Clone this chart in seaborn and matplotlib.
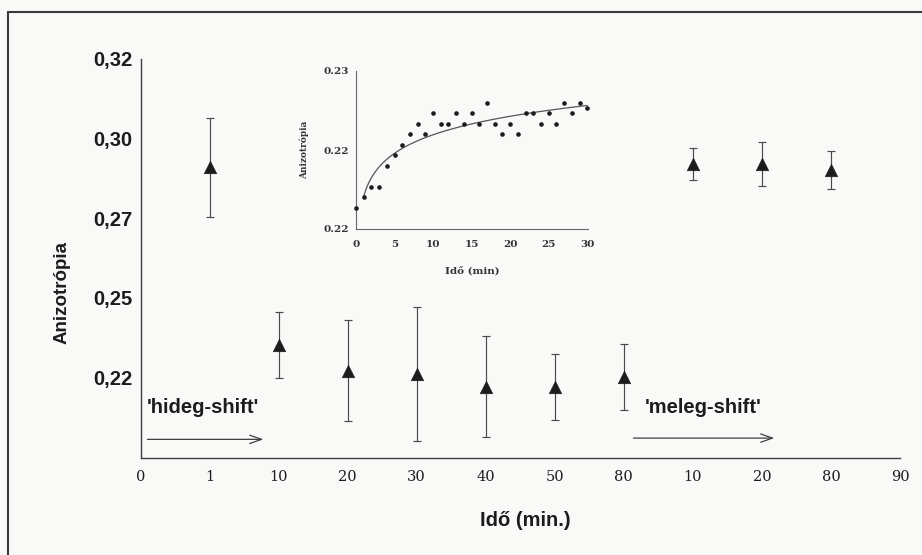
import numpy as np
import pandas as pd
import matplotlib
matplotlib.use("Agg")
import matplotlib.pyplot as plt
from matplotlib.lines import Line2D
import seaborn as sns

# Steady-state anisotropy after the cold and warm temperature shifts
time_labels = ["0", "1", "10", "20", "30", "40", "50", "80", "10", "20", "80", "90"]
point_slots = [1, 2, 3, 4, 5, 6, 7, 8, 9, 10]
anisotropy_mean = [0.286, 0.230, 0.222, 0.221, 0.217, 0.217, 0.220, 0.287, 0.287, 0.285]
anisotropy_err = [0.0156, 0.0104, 0.0158, 0.0210, 0.0158, 0.0104, 0.0103, 0.0050, 0.0070, 0.0060]

y_tick_values = [0.220, 0.245, 0.270, 0.295, 0.320]
y_tick_labels = ["0,22", "0,25", "0,27", "0,30", "0,32"]

# Inset: anisotropy during the first 30 minutes
inset_time = list(range(31))
inset_anisotropy = [0.217, 0.218, 0.219, 0.219, 0.221, 0.222, 0.223, 0.224, 0.225, 0.224,
                    0.226, 0.225, 0.225, 0.226, 0.225, 0.226, 0.225, 0.227, 0.225, 0.224,
                    0.225, 0.224, 0.226, 0.226, 0.225, 0.226, 0.225, 0.227, 0.226, 0.227,
                    0.2265]
inset_x_ticks = [0, 5, 10, 15, 20, 25, 30]
inset_y_ticks = [0.215, 0.2225, 0.230]
inset_y_labels = ["0.22", "0.22", "0.23"]

sns.set_style("white")
plt.rcParams["font.family"] = ["Liberation Sans", "DejaVu Sans"]

W, H = 922, 555
paper = "#f9f9f7"
ink = "#1c1c1c"
line_col = "#404040"

fig = plt.figure(figsize=(W / 100, H / 100), dpi=100, facecolor=paper)

# ---- main axes ----
ax = fig.add_axes([140.5 / W, 1 - 457.5 / H, 759.5 / W, 398.5 / H])
ax.set_facecolor(paper)

df = pd.DataFrame({"slot": point_slots, "r": anisotropy_mean, "err": anisotropy_err})
ax.errorbar(df["slot"], df["r"], yerr=df["err"], fmt="none", ecolor="#4a4a4a",
            elinewidth=0.85, capsize=2.9, capthick=0.85, zorder=2)
sns.scatterplot(data=df, x="slot", y="r", marker="^", s=82, color=ink,
                edgecolor=ink, linewidth=0.4, ax=ax, zorder=3, legend=False)

ax.set_xlim(0, 11)
ax.set_ylim(0.1947, 0.32)
ax.set_xticks(range(len(time_labels)))
ax.set_xticklabels(time_labels, fontfamily="DejaVu Serif", fontsize=10.5, color=ink)
ax.set_xticks(point_slots, minor=True)
ax.tick_params(axis="x", which="major", length=0, pad=9)
ax.tick_params(axis="x", which="minor", direction="in", length=10, width=0.9, color=line_col)
ax.set_yticks(y_tick_values)
ax.set_yticklabels(y_tick_labels, fontweight="bold", fontsize=14.5, color=ink)
ax.tick_params(axis="y", direction="in", length=7, width=0.9, color=line_col, pad=6)
ax.set_xlabel("")
ax.set_ylabel("")
for side in ("top", "right"):
    ax.spines[side].set_visible(False)
for side in ("left", "bottom"):
    ax.spines[side].set_color(line_col)
    ax.spines[side].set_linewidth(1.0)

# shift annotations
arrow_kw = dict(arrowstyle="->,head_length=0.85,head_width=0.3", color=line_col, lw=0.9,
                shrinkA=0, shrinkB=0)
ax.annotate("", xy=(1.78, 0.2004), xytext=(0.10, 0.2004), arrowprops=arrow_kw)
ax.annotate("", xy=(9.18, 0.2008), xytext=(7.14, 0.2008), arrowprops=arrow_kw)
ax.text(0.09, 0.2087, "'hideg-shift'", fontsize=14.5, fontweight="bold", color=ink,
        ha="left", va="baseline")
ax.text(7.31, 0.2087, "'meleg-shift'", fontsize=14.5, fontweight="bold", color=ink,
        ha="left", va="baseline")

fig.text(62 / W, 1 - 292 / H, "Anizotrópia", rotation=90, ha="center", va="center",
         fontsize=13.5, fontweight="bold", color=ink)
fig.text(525 / W, 1 - 521 / H, "Idő (min.)", ha="center", va="center",
         fontsize=14.5, fontweight="bold", color=ink)

# ---- inset ----
axi = fig.add_axes([356 / W, 1 - 229 / H, 232 / W, 158 / H])
axi.set_facecolor("none")
sns.regplot(x=inset_time[1:], y=inset_anisotropy[1:], logx=True, scatter=False, ci=None,
            color="#555555", line_kws=dict(lw=0.9), ax=axi)
sns.scatterplot(x=inset_time, y=inset_anisotropy, s=11, color=ink, linewidth=0,
                ax=axi, clip_on=False, zorder=3)
axi.set_xlim(0, 30.1)
axi.set_ylim(0.215, 0.230)
axi.set_xticks(inset_x_ticks)
axi.set_xticklabels([str(v) for v in inset_x_ticks], fontfamily="DejaVu Serif",
                    fontweight="bold", fontsize=7.5, color="#333333")
axi.set_yticks(inset_y_ticks)
axi.set_yticklabels(inset_y_labels, fontfamily="DejaVu Serif", fontweight="bold",
                    fontsize=7.5, color="#333333")
axi.tick_params(axis="both", direction="in", length=3, width=0.7, color="#666666")
axi.tick_params(axis="x", pad=8)
axi.tick_params(axis="y", pad=5)
axi.set_xlabel("")
axi.set_ylabel("")
for side in ("top", "right"):
    axi.spines[side].set_visible(False)
for side in ("left", "bottom"):
    axi.spines[side].set_color("#666666")
    axi.spines[side].set_linewidth(0.8)

fig.text(304 / W, 1 - 150 / H, "Anizotrópia", rotation=90, ha="center", va="center",
         fontfamily="DejaVu Serif", fontweight="bold", fontsize=6.5, color="#333333")
fig.text(472 / W, 1 - 272 / H, "Idő (min)", ha="center", va="center",
         fontfamily="DejaVu Serif", fontweight="bold", fontsize=7.5, color="#333333")

# page frame
fig.add_artist(Line2D([7.5 / W, 7.5 / W], [0, 1 - 11.5 / H], transform=fig.transFigure,
                      color="#3a3a3a", lw=1.5))
fig.add_artist(Line2D([7.5 / W, 1], [1 - 11.5 / H, 1 - 11.5 / H], transform=fig.transFigure,
                      color="#3a3a3a", lw=1.5))

fig.savefig("out.png", dpi=100, facecolor=paper)
